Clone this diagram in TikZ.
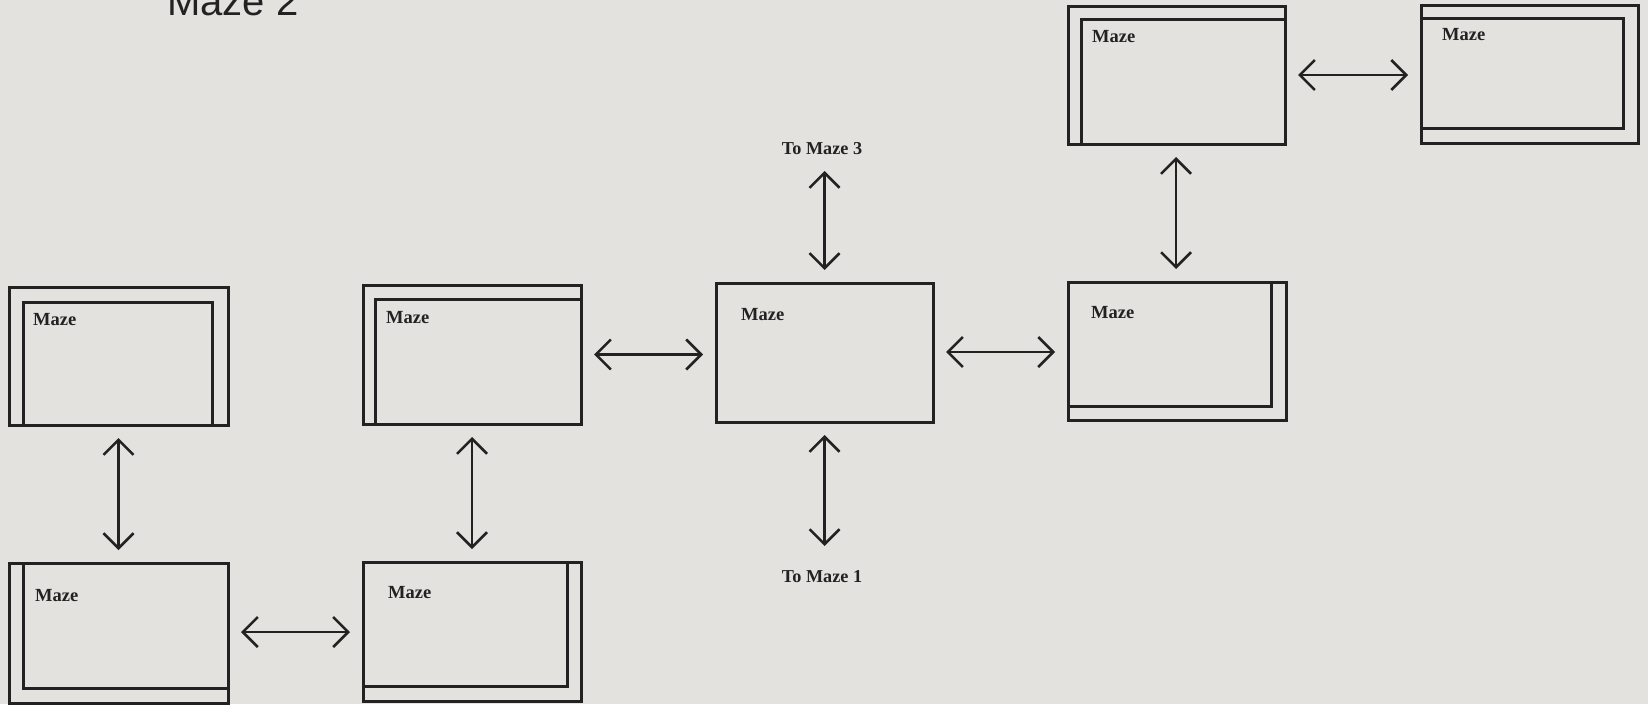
\documentclass[tikz,border=0pt]{standalone}
\usepackage{fontspec}
\setmainfont{Liberation Serif}
\newfontfamily\titlefont{Liberation Sans}
\usetikzlibrary{arrows.meta}
\definecolor{paper}{HTML}{E4E2DF}
\definecolor{ink}{HTML}{222222}
\tikzset{
  frame/.style={draw=ink, line width=3pt, inner sep=0pt, outer sep=0pt, anchor=north west},
  mazelbl/.style={anchor=base west, inner sep=0pt, text=ink, font=\fontsize{18.5}{20}\selectfont\bfseries},
  tolbl/.style={anchor=base, inner sep=0pt, text=ink, font=\fontsize{18.2}{20}\selectfont\bfseries},
  link/.style={draw=ink, line width=2.5pt, {Straight Barb[length=15pt,width=30pt]}-{Straight Barb[length=15pt,width=30pt]}, shorten <=13pt, shorten >=13pt},
}
% a framed box: name, top-left x, top-left y, width, height
\newcommand{\mazebox}[5]{\node[frame, minimum width=#4pt, minimum height=#5pt] (#1) at (#2,#3) {};}
\begin{document}
\begin{tikzpicture}[x=1pt, y=-1pt]
  \fill[paper] (0,0) rectangle (1648,704);
  \useasboundingbox (0,0) rectangle (1648,704);
  \clip (0,0) rectangle (1648,704);

  % heading
  \node[anchor=base west, inner sep=0pt, text=ink, font=\fontsize{40}{40}\titlefont] (title) at (167,15) {Maze 2};

  % left column
  \mazebox{A}{9}{287}{219}{138}
  \mazebox{Ai}{23}{302}{189}{123}
  \node[mazelbl] (Al) at (33,325) {Maze};

  \mazebox{B}{9}{563}{219}{140}
  \mazebox{Bi}{23}{563}{205}{125}
  \node[mazelbl] (Bl) at (35,601) {Maze};

  % second column
  \mazebox{C}{363}{285}{218}{139}
  \mazebox{Ci}{375}{299}{206}{125}
  \node[mazelbl] (Cl) at (386,323) {Maze};

  \mazebox{D}{363}{562}{218}{139}
  \mazebox{Di}{363}{562}{204}{124}
  \node[mazelbl] (Dl) at (388,598) {Maze};

  % entry box
  \mazebox{E}{716}{283}{217}{139}
  \node[mazelbl] (El) at (741,320) {Maze};

  % right side
  \mazebox{F}{1068}{282}{218}{138}
  \mazebox{Fi}{1068}{282}{203}{124}
  \node[mazelbl] (Fl) at (1091,318) {Maze};

  \mazebox{G}{1068}{6}{217}{138}
  \mazebox{Gi}{1081}{19}{204}{125}
  \node[mazelbl] (Gl) at (1092,42) {Maze};

  \mazebox{H}{1421}{5}{217}{138}
  \mazebox{Hi}{1421}{18}{202}{110}
  \node[mazelbl] (Hl) at (1442,40) {Maze};

  % exits to the other mazes
  \node[tolbl] (to3) at (822,154) {To Maze 3};
  \node[tolbl] (to1) at (822,582) {To Maze 1};
  \coordinate (up3) at (824.5,171);
  \coordinate (dn1) at (824.5,546);

  % connections
  \draw[link] (A.south) -- (A.south |- B.north);
  \draw[link] (C.south) -- (C.south |- D.north);
  \draw[link] (B.east |- 0,632) -- (D.west |- 0,632);
  \draw[link] (C.east) -- (C.east -| E.west);
  \draw[link] (E.east |- 0,352) -- (F.west |- 0,352);
  \draw[link] (G.east) -- (G.east -| H.west);
  \draw[link] (G.south -| 1176,0) -- (F.north -| 1176,0);
  \draw[link, shorten >=0pt] (E.north) -- (up3);
  \draw[link, shorten >=0pt] (E.south) -- (dn1);
\end{tikzpicture}
\end{document}
